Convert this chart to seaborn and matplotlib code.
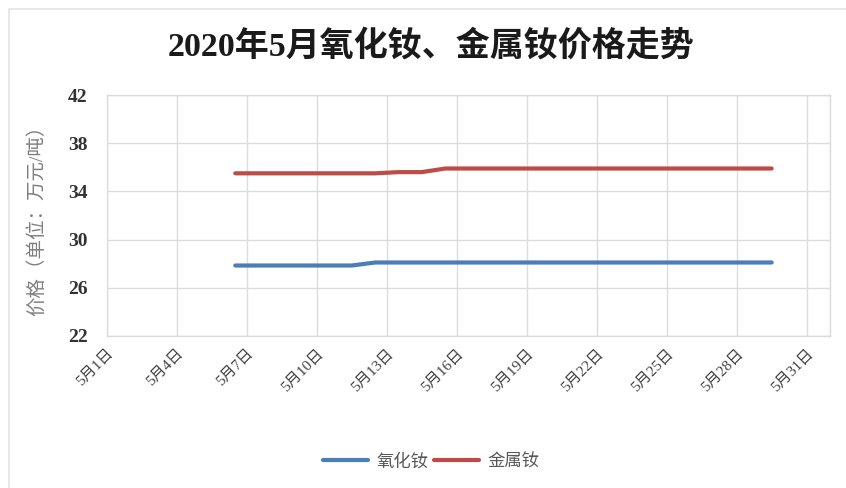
import datetime as dt

import matplotlib
matplotlib.use("Agg")
import matplotlib.pyplot as plt
from matplotlib.patches import Rectangle
import pandas as pd
import seaborn as sns

# Trading days in May 2020 with prices (万元/吨)
days = [6, 7, 8, 11, 12, 13, 14, 15, 18, 19, 20, 21, 22, 25, 26, 27, 28, 29]
nd_oxide = [27.85, 27.85, 27.85, 27.85, 28.1, 28.1, 28.1, 28.1, 28.1, 28.1,
            28.1, 28.1, 28.1, 28.1, 28.1, 28.1, 28.1, 28.1]
nd_metal = [35.5, 35.5, 35.5, 35.5, 35.5, 35.6, 35.6, 35.9, 35.9, 35.9,
            35.9, 35.9, 35.9, 35.9, 35.9, 35.9, 35.9, 35.9]
series_names = ["氧化钕", "金属钕"]
series_colors = ["#4A7EBB", "#BE4B48"]
tick_days = [1, 4, 7, 10, 13, 16, 19, 22, 25, 28, 31]
tick_labels = [f"5月{d}日" for d in tick_days]
y_ticks = [22, 26, 30, 34, 38, 42]
title = "2020年5月氧化钕、金属钕价格走势"
y_label = "价格（单位：万元/吨）"

sns.set_theme(style="white")
plt.rcParams["font.family"] = ["Liberation Serif", "Noto Sans CJK SC", "DejaVu Sans"]

# each day's value sits in the middle of its day slot on the date axis
rows = []
for name, vals in zip(series_names, [nd_oxide, nd_metal]):
    for d, v in zip(days, vals):
        rows.append({"date": dt.datetime(2020, 5, d, 12), "price": v, "series": name})
df = pd.DataFrame(rows)

fig = plt.figure(figsize=(8.46, 4.88), dpi=100)
ax = fig.add_axes([107 / 846, 1 - 336 / 488, (830 - 107) / 846, (336 - 95) / 488])

# outer chart frame
fig.patches.append(Rectangle((9 / 846, -0.05), 1.0, 1 - 9 / 488 + 0.05,
                             transform=fig.transFigure, fill=False,
                             edgecolor="#e4e4e4", linewidth=1.2))

sns.lineplot(data=df, x="date", y="price", hue="series", hue_order=series_names,
             palette=series_colors, linewidth=3.0, ax=ax, legend=False)

ax.set_xlim(dt.datetime(2020, 5, 1), dt.datetime(2020, 6, 1))
ax.set_ylim(22, 42)
ax.set_yticks(y_ticks)
ax.set_yticklabels([str(v) for v in y_ticks], fontsize=14, fontweight="bold",
                   color="#333333")
ax.set_xticks([dt.datetime(2020, 5, d) for d in tick_days])
ax.set_xticklabels(tick_labels, rotation=45, ha="right", rotation_mode="anchor",
                   fontsize=11, color="#404040")
ax.set_xticks([dt.datetime(2020, 6, 1)], minor=True)
ax.tick_params(axis="x", length=0, pad=8)
ax.tick_params(axis="y", length=0, pad=14)
ax.grid(True, which="both", color="#dcdcdc", linewidth=1.0)
for s in ax.spines.values():
    s.set_color("#dcdcdc")
    s.set_linewidth(1.0)
ax.set_xlabel("")
ax.set_ylabel(y_label, fontsize=14, color="#7f7f7f", labelpad=16)

fig.text(0.51, 0.905, title, ha="center", va="center", fontsize=24.5,
         fontweight="bold", color="#1a1a1a")

handles = [plt.Line2D([], [], color=c, linewidth=3.0) for c in series_colors]
fig.legend(handles, series_names, loc="center", bbox_to_anchor=(0.51, 0.053),
           ncol=2, frameon=False, fontsize=12.5, handlelength=2.6,
           columnspacing=0.3, handletextpad=0.5, labelcolor="#595959")

fig.savefig("out.png", dpi=100, facecolor="white")
